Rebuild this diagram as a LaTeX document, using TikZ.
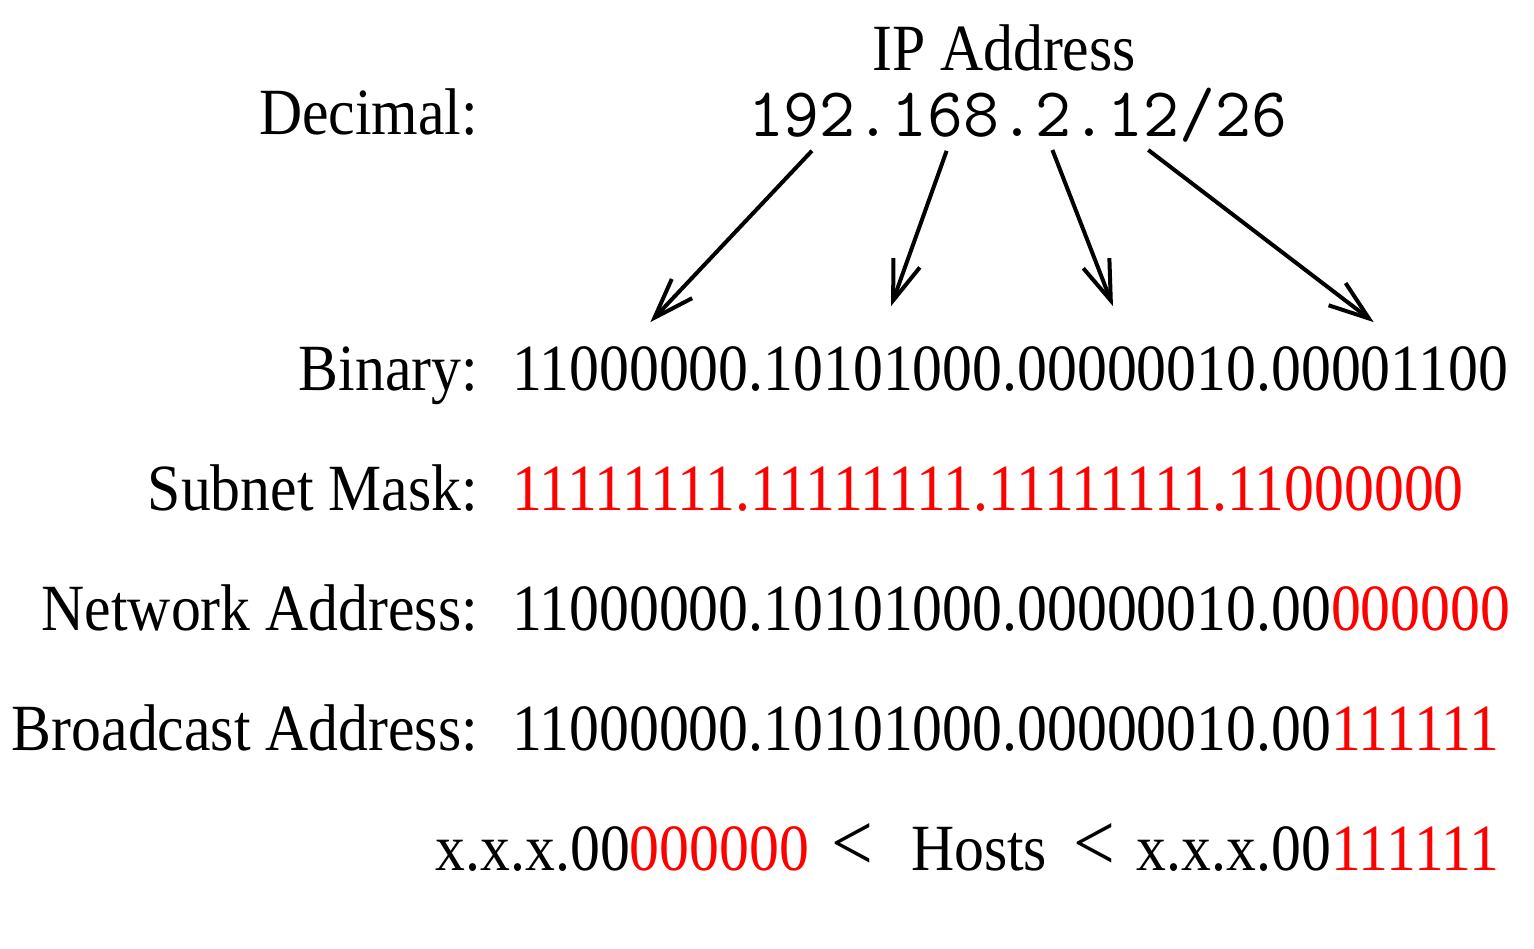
\documentclass[tikz,border=0pt]{standalone}
\usepackage{fontspec}
\setmainfont{Liberation Serif}[FakeStretch=0.905]
\usepackage{xcolor}
\usetikzlibrary{arrows.meta, positioning}
\newcommand{\rowfont}{\fontsize{33}{40}\selectfont}
\newcommand{\decsize}{\fontsize{34.9}{40}\selectfont\ttfamily}
\newcommand{\hl}[1]{\textcolor{red}{#1}}
\newcommand{\lt}{{\fontsize{41}{40}\selectfont<}}

\begin{document}
\begin{tikzpicture}[inner sep=0pt, outer sep=0pt, font=\rowfont]
    \tikzstyle{rowname}=[anchor=base east]
    \tikzstyle{bits}=[anchor=base west]
    \tikzstyle{deci}=[anchor=base west, font=\decsize]
    \tikzstyle{conv}=[-{Straight Barb[length=20pt,width=14pt]}, line width=2pt]

    \useasboundingbox (0,0) rectangle (767pt,-474pt);

    \node[anchor=base] (title) at (502pt,-35pt) {IP Address};
    \node[rowname] (dec) at (239pt,-67pt) {Decimal:};
    \node[deci] (d1) at (374pt,-68pt) {192};
    \node[deci, base right=0pt of d1] (p1) {.};
    \node[deci, base right=0pt of p1] (d2) {168};
    \node[deci, base right=0pt of d2] (p2) {.};
    \node[deci, base right=0pt of p2] (d3) {2};
    \node[deci, base right=0pt of d3] (p3) {.};
    \node[deci, base right=0pt of p3] (d4) {12};
    \node[deci, base right=0pt of d4] (pfx) {/26};

    \node[rowname, below=128pt of dec.base east, anchor=base east] (bin) {Binary:};
    \node[bits, base right=17pt of bin] (b1) {11000000};
    \node[bits, base right=0pt of b1] (q1) {.};
    \node[bits, base right=0pt of q1] (b2) {10101000};
    \node[bits, base right=0pt of b2] (q2) {.};
    \node[bits, base right=0pt of q2] (b3) {00000010};
    \node[bits, base right=0pt of b3] (q3) {.};
    \node[bits, base right=0pt of q3] (b4) {00001100};

    \node[rowname, below=60pt of bin.base east, anchor=base east] (mask) {Subnet Mask:};
    \node[bits, base right=17pt of mask] (maskbits) {\hl{11111111.11111111.11111111.11000000}};

    \node[rowname, below=60pt of mask.base east, anchor=base east] (net) {Network Address:};
    \node[bits, base right=17pt of net] (netbits) {11000000.10101000.00000010.00\hl{000000}};

    \node[rowname, below=60pt of net.base east, anchor=base east] (bcast) {Broadcast Address:};
    \node[bits, base right=17pt of bcast] (bcastbits) {11000000.10101000.00000010.00\hl{111111}};

    \node[rowname, below=60pt of bcastbits.base east, anchor=base east] (hosts)
      {x.x.x.00\hl{000000}\hspace{11pt}\lt\hspace{19pt}Hosts\hspace{13pt}\lt\hspace{11pt}x.x.x.00\hl{111111}};

    \path[conv]
    ([shift={(5pt,-7pt)}]d1.south) edge ([shift={(10pt,12pt)}]b1.north)
    ([shift={(0.5pt,-7pt)}]d2.south) edge ([shift={(4pt,20pt)}]b2.north)
    ([shift={(-0.5pt,-7pt)}]d3.south) edge ([shift={(-12pt,20pt)}]b3.north)
    ([shift={(2.5pt,-7pt)}]d4.south) edge ([shift={(-8pt,12pt)}]b4.north)
    ;

\end{tikzpicture}
\end{document}
